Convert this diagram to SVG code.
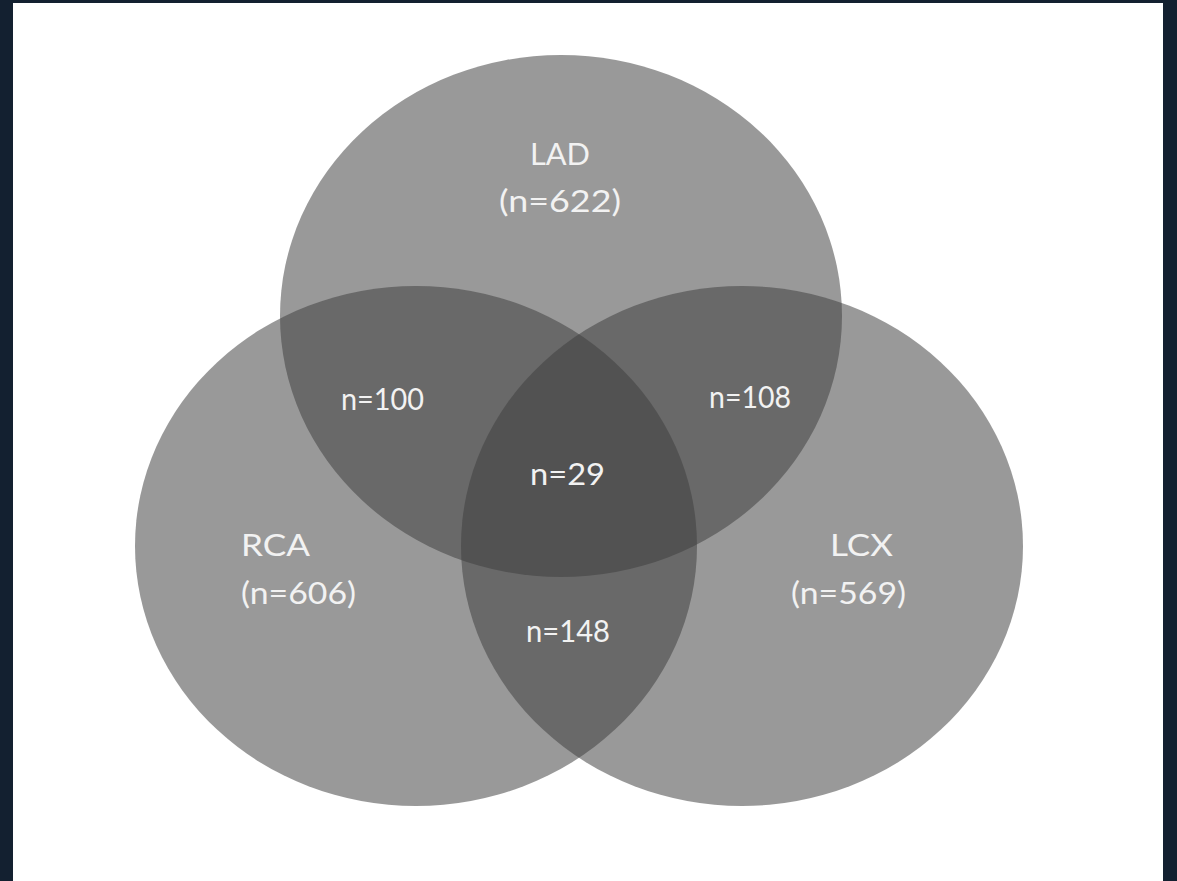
<svg xmlns="http://www.w3.org/2000/svg" width="1177" height="881" viewBox="0 0 1177 881">
<style>
.c{fill:#3e3e3e;fill-opacity:0.53}
text{font-family:"Lato","Liberation Sans",sans-serif;font-size:30px;fill:#f2f2f2}
</style>
<rect x="0" y="0" width="1177" height="881" fill="#132030"/>
<rect x="13" y="3" width="1150" height="878" fill="#ffffff"/>
<g id="lad"><ellipse class="c" cx="561" cy="316" rx="281" ry="261"/></g>
<g id="rca"><ellipse class="c" cx="416" cy="546" rx="281" ry="260"/></g>
<g id="lcx"><ellipse class="c" cx="742" cy="546" rx="281" ry="260"/></g>
<g id="connectors"/>
<g id="labels">
<text x="530" y="165" textLength="60" lengthAdjust="spacingAndGlyphs">LAD</text>
<text x="499" y="212" textLength="122" lengthAdjust="spacingAndGlyphs">(n=622)</text>
<text x="241" y="556" textLength="69" lengthAdjust="spacingAndGlyphs">RCA</text>
<text x="241" y="604" textLength="115" lengthAdjust="spacingAndGlyphs">(n=606)</text>
<text x="830" y="556" textLength="63" lengthAdjust="spacingAndGlyphs">LCX</text>
<text x="791" y="604" textLength="115" lengthAdjust="spacingAndGlyphs">(n=569)</text>
<text x="341" y="410" textLength="83" lengthAdjust="spacingAndGlyphs">n=100</text>
<text x="709" y="408" textLength="82" lengthAdjust="spacingAndGlyphs">n=108</text>
<text x="530" y="485" textLength="75" lengthAdjust="spacingAndGlyphs">n=29</text>
<text x="526" y="642" textLength="84" lengthAdjust="spacingAndGlyphs">n=148</text>
</g>
</svg>
